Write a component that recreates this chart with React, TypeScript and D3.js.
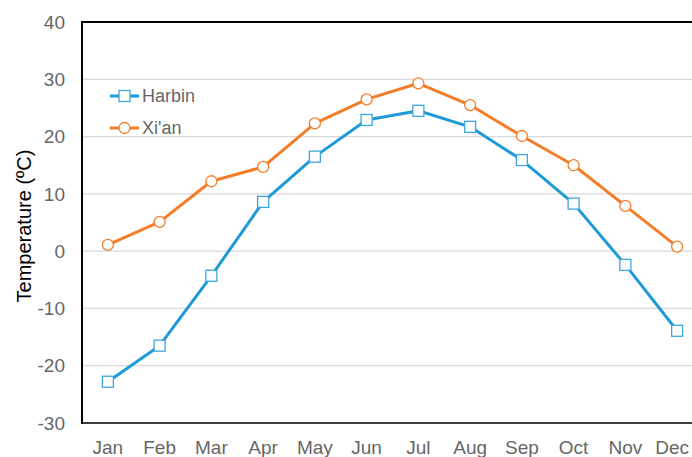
import React from "react";
import * as d3 from "d3";

const months = ["Jan","Feb","Mar","Apr","May","Jun","Jul","Aug","Sep","Oct","Nov","Dec"];
const harbin = [-22.8,-16.5,-4.3,8.6,16.5,22.9,24.5,21.7,15.9,8.3,-2.4,-13.9];
const xian = [1.1,5.1,12.2,14.7,22.3,26.5,29.3,25.5,20.1,15.0,7.9,0.8];
const yTicks = [-30,-20,-10,0,10,20,30,40];

const W = 692, H = 457;
const left = 82, right = 703, top = 22, bottom = 423;
const BLUE = "#1E9AD6";
const ORANGE = "#F47D2A";

export default function App() {
  const x = d3.scaleBand<string>().domain(months).range([left, right]);
  const y = d3.scaleLinear().domain([-30, 40]).range([bottom, top]);
  const cx = (m: string) => (x(m) as number) + x.bandwidth() / 2;
  const line = d3.line<number>().x((_, i) => cx(months[i])).y((d) => y(d));
  const font = "'Liberation Sans', Arial, sans-serif";
  return (
    <svg width={W} height={H} style={{ position: "absolute", left: 0, top: 0, background: "#fff" }}>
      {yTicks.map((t) => (
        <g key={t}>
          {t > -30 && t < 40 && (
            <line x1={left} x2={W} y1={y(t)} y2={y(t)} stroke="#D9D9D9" strokeWidth={1.2} />
          )}
          <text x={65} y={y(t)} dy="0.35em" textAnchor="end" fontFamily={font} fontSize={19} fill="#666">{t}</text>
        </g>
      ))}
      <line x1={left} x2={W} y1={top} y2={top} stroke="#000" strokeWidth={2.2} />
      <line x1={left} x2={W} y1={bottom} y2={bottom} stroke="#000" strokeWidth={1.5} />
      <line x1={left} x2={left} y1={top - 1} y2={bottom + 1} stroke="#000" strokeWidth={2} />
      {months.map((m, i) => {
        const last = i === months.length - 1;
        return (
          <text key={m} x={last ? 689 : cx(m)} y={447} dy="0.35em" textAnchor={last ? "end" : "middle"} fontFamily={font} fontSize={19} fill="#666">{m}</text>
        );
      })}
      <text transform={`translate(24,${226}) rotate(-90)`} textAnchor="middle" dy="0.35em" fontFamily={font} fontSize={20} fill="#000">Temperature (ºC)</text>

      <path d={line(xian) || ""} fill="none" stroke={ORANGE} strokeWidth={3} strokeLinejoin="round" />
      {xian.map((v, i) => (
        <circle key={i} cx={cx(months[i])} cy={y(v)} r={5.5} fill="#fff" stroke={ORANGE} strokeWidth={1.3} />
      ))}
      <path d={line(harbin) || ""} fill="none" stroke={BLUE} strokeWidth={3} strokeLinejoin="round" />
      {harbin.map((v, i) => (
        <rect key={i} x={cx(months[i]) - 5.5} y={y(v) - 5.5} width={11} height={11} fill="#fff" stroke="#3EA6DD" strokeWidth={1.3} />
      ))}

      <g>
        <line x1={110} x2={139} y1={96} y2={96} stroke={BLUE} strokeWidth={3} />
        <rect x={119} y={90.5} width={11} height={11} fill="#fff" stroke="#3EA6DD" strokeWidth={1.3} />
        <text x={142} y={96} dy="0.35em" fontFamily={font} fontSize={18} fill="#666">Harbin</text>
        <line x1={110} x2={139} y1={128} y2={128} stroke={ORANGE} strokeWidth={3} />
        <circle cx={124.5} cy={128} r={5.5} fill="#fff" stroke={ORANGE} strokeWidth={1.3} />
        <text x={142} y={128} dy="0.35em" fontFamily={font} fontSize={18} fill="#666">Xi'an</text>
      </g>
    </svg>
  );
}
